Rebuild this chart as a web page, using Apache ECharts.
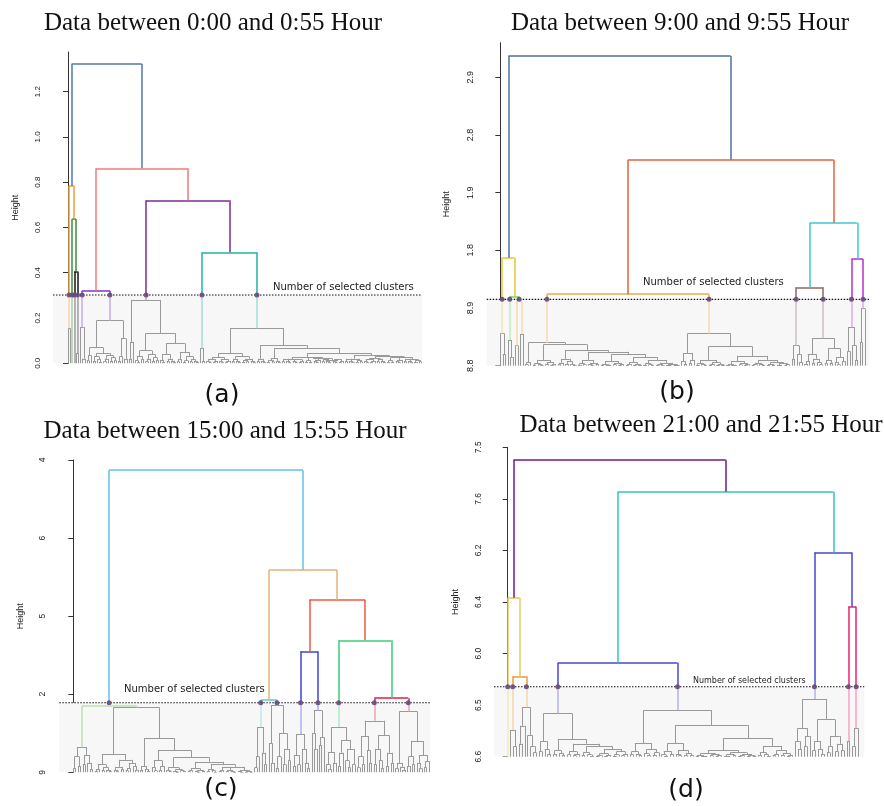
<!DOCTYPE html>
<html><head><meta charset="utf-8">
<script src="https://cdn.jsdelivr.net/npm/echarts@6/dist/echarts.min.js"></script>
<style>html,body{margin:0;padding:0;background:#fff}#c{width:884px;height:806px}</style>
</head><body><div id="c"></div><script>
// ================= DATA =================
// Tree node: leaf = 0 ; internal = [height, left, right, colourKey?]
// ---------- Panel (a) ----------
const titleA = 'Data between 0:00 and 0:55 Hour';
const cutA = 0.302;
const ticksA = [0, 0.2, 0.4, 0.6, 0.8, 1.0, 1.2];
const tickLabelsA = ['0.0', '0.2', '0.4', '0.6', '0.8', '1.0', '1.2'];
const colorsA = {blue:'#4f7bab', orange:'#e5a03c', green:'#3d8b3d', black:'#141414', red:'#ef7b78', violet:'#7f2fd1', dpurple:'#7b2c8d', teal:'#20b0a8'};
const fa3 = [0.010, 0, [0.004, 0, 0]];
const fa4 = [0.014, [0.005, 0, 0], [0.007, 0, 0]];
const fa5 = [0.020, [0.008, 0, 0], [0.010, 0, [0.004, 0, 0]]];
const fa6 = [0.018, [0.008, 0, [0.003, 0, 0]], [0.010, [0.004, 0, 0], 0]];
const fa8 = [0.025, [0.012, [0.005, 0, 0], [0.006, 0, 0]], [0.015, [0.007, 0, [0.003, 0, 0]], 0]];
const orangeA = [0.784, [0.155, 0, 0], [0.637, 0, [0.405, 0, [0.045, 0, 0], 'black'], 'green'], 'orange'];
const violetA = [0.321, [0.16, 0, [0.02, 0, 0]],
  [0.188,
    [0.069, [0.035, [0.012, 0, 0], 0],
      [0.045, [0.03, [0.01, 0, 0], [0.018, 0, [0.006, 0, 0]]], [0.035, [0.02, [0.008, 0, 0], 0], [0.025, [0.01, 0, 0], [0.012, 0, 0]]]]],
    [0.11, [0.03, [0.01, 0, 0], 0], [0.02, 0, 0]]], 'violet'];
const dpLeftA = [0.28, [0.095, [0.02, 0, 0], 0],
  [0.132,
    [0.056, [0.03, [0.012, 0, [0.005, 0, 0]], [0.018, 0, 0]], [0.04, [0.02, [0.008, 0, 0], 0], [0.025, [0.01, 0, 0], [0.014, 0, 0]]]],
    [0.088, [0.04, [0.015, 0, [0.006, 0, 0]], [0.02, [0.009, 0, 0], [0.011, 0, [0.005, 0, 0]]]],
      [0.05, [0.018, [0.007, 0, 0], 0], [0.03, [0.012, [0.005, 0, 0], 0], [0.016, [0.007, 0, 0], [0.01, 0, [0.004, 0, 0]]]]]]]];
const tealRightA = [0.155,
  [0.044, [0.025, fa6, fa6], [0.03, fa5, [0.02, fa4, fa3]]],
  [0.08, fa5, [0.066, [0.022, fa4, fa3],
    [0.044, [0.025, [0.018, fa5, fa6], [0.022, fa8, [0.015, fa5, fa6]]],
      [0.035, [0.02, fa5, fa4], [0.03, [0.022, fa6, fa5], [0.025, fa8, [0.018, fa5, fa4]]]]]]]];
const tealA = [0.49, [0.067, 0, [0.01, 0, 0]], tealRightA, 'teal'];
const treeA = [1.322, orangeA, [0.861, violetA, [0.72, dpLeftA, tealA, 'dpurple'], 'red'], 'blue'];

// ---------- Panel (b) ----------
const titleB = 'Data between 9:00 and 9:55 Hour';
const cutB = 1.15;
const ticksB = [0, 1, 2, 3, 4, 5];
const tickLabelsB = ['8.8', '8.9', '1.8', '1.9', '2.8', '2.9'];
const colorsB = {blue:'#4d709c', yellow:'#e2c83a', green:'#5ed95a', orange:'#eda845', ored:'#e0643b', cyan:'#3ec7d3', brown:'#8a6a5f', magenta:'#b82fc9'};
const yellowB = [1.87, [0.56, 0, [0.2, 0, 0]], [1.2, [0.445, 0, [0.15, 0, 0]], [1.12, [0.35, 0, 0], [0.55, 0, 0], 'orange'], 'green'], 'yellow'];
const orangeLeftB = [0.40, [0.06, [0.02, 0, 0], 0],
  [0.37, [0.1, [0.04, [0.015, 0, 0], [0.02, 0, [0.008, 0, 0]]], [0.06, [0.025, 0, 0], [0.03, [0.01, 0, 0], 0]]],
    [0.27, [0.12, [0.05, [0.02, 0, 0], 0], [0.07, [0.03, 0, 0], [0.025, 0, [0.01, 0, 0]]]],
      [0.24, [0.1, [0.04, [0.015, 0, 0], [0.02, 0, 0]], [0.05, [0.02, 0, [0.008, 0, 0]], [0.03, 0, 0]]],
        [0.2, [0.08, [0.03, [0.01, 0, 0], [0.015, 0, [0.005, 0, 0]]], [0.045, [0.02, 0, 0], [0.025, [0.01, 0, 0], 0]]],
          [0.15, [0.06, [0.025, [0.01, 0, 0], 0], [0.03, [0.012, 0, 0], [0.015, 0, 0]]],
            [0.1, [0.04, [0.015, 0, 0], [0.02, 0, [0.006, 0, 0]]],
              [0.05, [0.02, [0.008, 0, 0], [0.01, 0, 0]], [0.025, [0.01, 0, [0.004, 0, 0]], [0.012, [0.005, 0, 0], 0]]]]]]]]]];
const orangeRightB = [0.56, [0.22, [0.08, 0, [0.03, 0, 0]], [0.1, [0.04, 0, 0], 0]],
  [0.33, [0.1, [0.04, [0.015, 0, 0], [0.02, 0, [0.007, 0, 0]]], [0.06, [0.025, [0.01, 0, 0], 0], [0.03, [0.012, 0, 0], [0.014, 0, 0]]]],
    [0.17, [0.08, [0.03, [0.012, 0, 0], [0.015, 0, [0.005, 0, 0]]], [0.04, [0.018, 0, 0], [0.022, [0.009, 0, 0], 0]]],
      [0.1, [0.05, [0.02, [0.008, 0, 0], 0], [0.025, 0, [0.01, 0, 0]]], [0.06, [0.03, [0.012, 0, 0], [0.015, 0, 0]], [0.035, [0.014, 0, [0.006, 0, 0]], [0.018, [0.007, 0, 0], 0]]]]]]];
const brownB = [1.36, [0.35, [0.12, 0, 0], [0.2, 0, [0.06, 0, 0]]],
  [0.475, [0.2, [0.08, [0.03, 0, 0], 0], [0.12, [0.05, 0, 0], [0.06, 0, [0.02, 0, 0]]]],
    [0.3, [0.1, [0.04, 0, 0], [0.05, 0, 0]], [0.15, [0.06, 0, [0.02, 0, 0]], [0.08, 0, 0]]]], 'brown'];
const magentaB = [1.85, [0.67, [0.25, 0, 0], [0.35, 0, [0.1, 0, 0]]], [0.99, [0.4, 0, 0], 0], 'magenta'];
const treeB = [5.37, yellowB, [3.57, [1.24, orangeLeftB, orangeRightB, 'orange'], [2.48, brownB, magentaB, 'cyan'], 'ored'], 'blue'];

// ---------- Panel (c) ----------
const titleC = 'Data between 15:00 and 15:55 Hour';
const cutC = 0.89;
const ticksC = [0, 1, 2, 3, 4];
const tickLabelsC = ['9', '2', '5', '6', '4'];
const colorsC = {cyan:'#5fc1ee', tan:'#e3b573', red:'#ee5b3e', blue:'#3f45d8', green:'#37d079', crimson:'#e01f4b', tealL:'#5ecbc4', lgreen:'#62b842'};
const lgLeftC = [0.32, [0.2, [0.05, 0, 0], [0.08, 0, 0]], [0.22, [0.1, 0, 0], [0.12, 0, [0.04, 0, 0]]]];
const n235C = [0.235, [0.1, [0.04, [0.015, 0, 0], 0], [0.06, [0.02, 0, 0], [0.03, 0, [0.01, 0, 0]]]],
  [0.16, [0.07, [0.03, 0, [0.01, 0, 0]], [0.04, 0, 0]], [0.12, [0.05, [0.02, 0, 0], 0], [0.08, 0, [0.03, 0, 0]]]]];
const n435C = [0.435, [0.08, [0.03, 0, 0], [0.04, 0, [0.015, 0, 0]]],
  [0.28, [0.15, [0.06, 0, [0.02, 0, 0]], [0.08, [0.03, 0, 0], 0]],
    [0.19, [0.06, [0.025, 0, [0.01, 0, 0]], [0.035, [0.015, 0, [0.006, 0, 0]], [0.02, 0, [0.008, 0, 0]]]],
      [0.135, [0.05, [0.02, [0.008, 0, 0], 0], [0.03, [0.012, 0, [0.005, 0, 0]], [0.015, 0, 0]]],
        [0.1, [0.04, [0.015, 0, 0], [0.02, 0, [0.006, 0, 0]]],
          [0.07, [0.06, [0.025, [0.01, 0, 0], 0], [0.03, [0.01, 0, 0], [0.012, 0, [0.004, 0, 0]]]],
            [0.03, [0.012, 0, [0.004, 0, 0]], [0.015, [0.006, 0, 0], [0.005, 0, 0]]]]]]]]];
const lgC = [0.85, lgLeftC, [0.83, n235C, n435C], 'lgreen'];
const tealLC = [0.93, [0.58, [0.2, [0.06, 0, 0], 0], [0.25, 0, [0.1, 0, 0]]],
  [0.86, [0.37, 0, [0.12, 0, 0]], [0.5, [0.2, [0.05, 0, 0], 0], [0.3, [0.1, 0, 0], [0.15, 0, 0]]]], 'tealL'];
const blueC = [1.55, [0.49, [0.22, [0.08, 0, 0], [0.1, 0, 0]], [0.3, 0, [0.12, 0, [0.05, 0, 0]]]],
  [0.79, [0.5, 0, [0.3, 0, 0]], [0.45, [0.35, 0, 0], 0]], 'blue'];
const greenLC = [0.58, [0.26, [0.1, 0, [0.04, 0, 0]], [0.12, 0, 0]], [0.41, [0.25, [0.08, 0, 0], 0], [0.3, [0.15, 0, [0.06, 0, 0]], [0.1, 0, 0]]]];
const crimsonC = [0.95,
  [0.66, [0.46, [0.2, [0.06, 0, 0], [0.1, 0, 0]], [0.28, 0, [0.12, 0, 0]]], [0.47, [0.3, [0.1, 0, 0], [0.15, 0, [0.05, 0, 0]]], [0.25, [0.08, 0, 0], [0.12, 0, 0]]]],
  [0.78, [0.12, [0.05, 0, 0], [0.07, 0, [0.03, 0, 0]]], [0.4, [0.2, [0.08, 0, 0], [0.1, 0, 0]], [0.22, [0.12, 0, [0.05, 0, 0]], [0.14, [0.06, 0, 0], 0]]]], 'crimson'];
const treeC = [3.87, lgC, [2.59, tealLC, [2.21, blueC, [1.69, greenLC, crimsonC, 'green'], 'red'], 'tan'], 'cyan'];

// ---------- Panel (d) ----------
const titleD = 'Data between 21:00 and 21:55 Hour';
const cutD = 1.357;
const ticksD = [0, 1, 2, 3, 4, 5, 6];
const tickLabelsD = ['6.6', '6.5', '6.0', '6.4', '6.2', '7.6', '7.5'];
const colorsD = {purple:'#6c1b8c', yellow:'#e4c95b', orange:'#eb9b3b', teal:'#36c5b6', blue:'#4747d3', pink:'#f01f6f'};
const yellowD = [3.08, 0, [1.56, [0.52, 0, [0.2, 0, 0]], [0.96, [0.6, [0.25, 0, 0], 0], [0.41, 0, [0.2, 0, [0.08, 0, 0]]]], 'orange'], 'yellow'];
const blueLD = [0.84, [0.3, [0.1, 0, 0], [0.14, 0, [0.05, 0, 0]]],
  [0.34, [0.12, [0.05, 0, 0], [0.07, 0, [0.03, 0, 0]]],
    [0.25, [0.1, [0.04, 0, 0], [0.05, [0.02, 0, 0], 0]],
      [0.2, [0.08, [0.03, 0, 0], [0.04, 0, [0.015, 0, 0]]],
        [0.15, [0.06, [0.025, [0.01, 0, 0], 0], [0.03, [0.012, 0, 0], 0]], [0.1, [0.04, [0.015, 0, 0], 0], [0.05, [0.02, 0, 0], 0]]]]]]];
const blueRD = [0.9, [0.26, [0.1, [0.04, 0, 0], [0.05, 0, [0.02, 0, 0]]], [0.14, [0.06, 0, [0.02, 0, 0]], [0.08, [0.03, 0, 0], 0]]],
  [0.61, [0.26, [0.1, [0.04, 0, [0.015, 0, 0]], [0.05, 0, 0]], [0.12, [0.05, 0, [0.02, 0, 0]], [0.06, [0.025, 0, 0], [0.03, 0, 0]]]],
    [0.36, [0.12, [0.06, [0.03, [0.012, 0, 0], [0.015, 0, [0.005, 0, 0]]], [0.04, [0.02, 0, 0], [0.022, [0.009, 0, 0], 0]]],
               [0.08, [0.04, [0.015, 0, [0.006, 0, 0]], [0.02, 0, 0]], [0.05, [0.025, [0.01, 0, 0], 0], [0.03, [0.012, 0, 0], [0.014, 0, 0]]]]],
      [0.21, [0.08, [0.03, 0, 0], [0.04, 0, [0.015, 0, 0]]], [0.12, [0.05, [0.02, 0, 0], 0], [0.06, [0.025, 0, 0], [0.03, [0.01, 0, 0], 0]]]]]]];
const blue3D = [3.96, [1.12, [0.55, [0.3, 0, [0.15, 0, 0]], [0.4, [0.2, 0, 0], 0]],
    [0.72, [0.3, [0.12, 0, 0], [0.15, 0, [0.05, 0, 0]]], [0.4, [0.2, [0.08, 0, 0], 0], [0.25, [0.1, 0, 0], [0.12, 0, 0]]]]],
  [2.91, [0.3, 0, 0], [0.55, [0.2, 0, 0], 0], 'pink'], 'blue'];
const treeD = [5.76, yellowD, [5.14, [1.82, blueLD, blueRD, 'blue'], blue3D, 'teal'], 'purple'];

const clusterText = 'Number of selected clusters';
const captions = ['(a)', '(b)', '(c)', '(d)'];

// ================= LAYOUT (pixels) =================
const panels = [
  {tree: treeA, cut: cutA, ticks: ticksA, labels: tickLabelsA, colors: colorsA, title: titleA,
   left: 53, right: 422, top: 52, bottom: 363.3, yMax: 1.375, firstPx: 68, lastPx: 421,
   labelSize: 8, labelMargin: 11, nameGap: 33, titleX: 213, titleY: 23, capX: 222, capY: 395,
   txtX: 273, txtY: 287, txtSize: 10},
  {tree: treeB, cut: cutB, ticks: ticksB, labels: tickLabelsB, colors: colorsB, title: titleB,
   left: 486.7, right: 869, top: 42.7, bottom: 365.7, yMax: 5.6, firstPx: 500.3, lastPx: 865,
   labelSize: 9, labelMargin: 12, nameGap: 36, titleX: 680, titleY: 23, capX: 677, capY: 392,
   txtX: 643, txtY: 282.5, txtSize: 10},
  {tree: treeC, cut: cutC, ticks: ticksC, labels: tickLabelsC, colors: colorsC, title: titleC,
   left: 59.3, right: 430, top: 460, bottom: 772.3, yMax: 4, firstPx: 73.3, lastPx: 429,
   labelSize: 8.5, labelMargin: 12, nameGap: 34, titleX: 225, titleY: 431, capX: 221, capY: 789,
   txtX: 124, txtY: 689, txtSize: 10},
  {tree: treeD, cut: cutD, ticks: ticksD, labels: tickLabelsD, colors: colorsD, title: titleD,
   left: 494, right: 864.3, top: 447.3, bottom: 756.7, yMax: 6, firstPx: 507.7, lastPx: 858.3,
   labelSize: 8.5, labelMargin: 11, nameGap: 34, titleX: 701, titleY: 425, capX: 686, capY: 790,
   txtX: 693, txtY: 681, txtSize: 8}
];

const GREY = '#999999';
function tint(hex, t) {
  const n = parseInt(hex.slice(1), 16);
  const r = (n >> 16) & 255, g = (n >> 8) & 255, b = n & 255;
  const m = c => Math.round(c * t + 255 * (1 - t));
  return 'rgb(' + m(r) + ',' + m(g) + ',' + m(b) + ')';
}

function layoutTree(tree, cut, colors) {
  let leaf = 0;
  const segs = [], dots = [];
  function add(x1, y1, x2, y2, color, prio, w) {
    segs.push({coords: [[x1, y1], [x2, y2]], prio, lineStyle: {color, width: w, opacity: 1}});
  }
  function walk(node) {
    if (!Array.isArray(node)) { return {x: leaf++, h: 0}; }
    const h = node[0];
    const a = walk(node[1]), b = walk(node[2]);
    const col = node[3] ? colors[node[3]] : null;
    const x = (a.x + b.x) / 2;
    if (!col) {
      add(a.x, h, b.x, h, GREY, 0, 1);
      add(a.x, a.h, a.x, h, GREY, 0, 1);
      add(b.x, b.h, b.x, h, GREY, 0, 1);
    } else {
      const light = tint(col, 0.42);
      if (h > cut) add(a.x, h, b.x, h, col, 2, 1.5); else add(a.x, h, b.x, h, light, 1, 1.5);
      [a, b].forEach(c => {
        if (h <= cut) add(c.x, c.h, c.x, h, light, 1, 1.5);
        else if (c.h >= cut) add(c.x, c.h, c.x, h, col, 2, 1.5);
        else {
          add(c.x, c.h, c.x, cut, light, 1, 1.5);
          add(c.x, cut, c.x, h, col, 2, 1.5);
          dots.push([c.x, cut]);
        }
      });
    }
    return {x, h};
  }
  walk(tree);
  segs.sort((p, q) => p.prio - q.prio);
  return {segs, dots, n: leaf};
}

const option = {animation: false, grid: [], xAxis: [], yAxis: [], series: [], graphic: []};
panels.forEach((p, i) => {
  const res = layoutTree(p.tree, p.cut, p.colors);
  const sp = (p.lastPx - p.firstPx) / (res.n - 1);
  const xMin = -(p.firstPx - p.left) / sp;
  const xMax = (res.n - 1) + (p.right - p.lastPx) / sp;
  option.grid.push({left: p.left, top: p.top, width: p.right - p.left, height: p.bottom - p.top, containLabel: false});
  option.xAxis.push({type: 'value', gridIndex: i, min: xMin, max: xMax, show: false});
  option.yAxis.push({
    type: 'value', gridIndex: i, min: 0, max: p.yMax,
    axisLine: {show: true, lineStyle: {color: '#333', width: 1}},
    axisTick: {show: true, length: 5, customValues: p.ticks, lineStyle: {color: '#333'}},
    axisLabel: {customValues: p.ticks, rotate: 90, margin: p.labelMargin, fontSize: p.labelSize,
      fontFamily: 'Liberation Sans', color: '#222',
      formatter: v => { const k = p.ticks.findIndex(t => Math.abs(t - v) < 1e-6); return k >= 0 ? p.labels[k] : ''; }},
    splitLine: {show: false},
    name: 'Height', nameLocation: 'middle', nameGap: p.nameGap,
    nameTextStyle: {fontSize: 9, fontFamily: 'Liberation Sans', color: '#222'}
  });
  const cutLine = [[xMin, p.cut], [xMax, p.cut]];
  option.series.push({type: 'line', xAxisIndex: i, yAxisIndex: i, data: cutLine, symbol: 'none', silent: true,
    lineStyle: {width: 0, opacity: 0}, areaStyle: {color: '#f7f7f7', opacity: 1}, z: 1});
  option.series.push({type: 'lines', coordinateSystem: 'cartesian2d', xAxisIndex: i, yAxisIndex: i,
    data: res.segs, silent: true, lineStyle: {opacity: 1, width: 1}, z: 3});
  option.series.push({type: 'line', xAxisIndex: i, yAxisIndex: i, data: cutLine, symbol: 'none', silent: true,
    lineStyle: {color: '#111', width: 1.1, type: [1.5, 1.5]}, z: 5});
  option.series.push({type: 'scatter', xAxisIndex: i, yAxisIndex: i, data: res.dots, symbolSize: 5, silent: true,
    itemStyle: {color: '#6b4a7d', opacity: 0.9}, z: 6});
  option.graphic.push({type: 'text', x: p.titleX, y: p.titleY, silent: true,
    style: {text: p.title, font: '25px "Liberation Serif"', fill: '#111', align: 'center', verticalAlign: 'middle'}});
  option.graphic.push({type: 'text', x: p.capX, y: p.capY, silent: true,
    style: {text: captions[i], font: '25px "DejaVu Sans"', fill: '#111', align: 'center', verticalAlign: 'middle'}});
  option.graphic.push({type: 'text', x: p.txtX, y: p.txtY, silent: true, z: 10,
    style: {text: clusterText, font: p.txtSize + 'px "DejaVu Sans"', fill: '#222', align: 'left', verticalAlign: 'middle'}});
});

const chart = echarts.init(document.getElementById('c'), null, {renderer: 'canvas'});
chart.setOption(option);
</script></body></html>
